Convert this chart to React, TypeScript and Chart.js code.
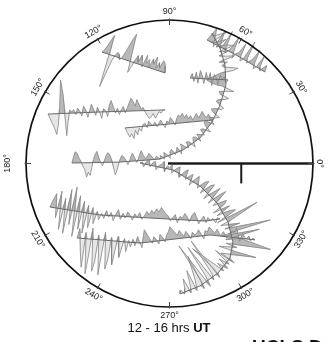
import React, { useEffect, useRef } from "react";
import { Chart, registerables } from "chart.js";

Chart.register(...registerables);

type P = [number, number];

// chart units: colatitude degrees from the pole (circle edge = 90)
const RADIUS_MAX = 90;
const ANGLE_TICKS = [0, 30, 60, 90, 120, 150, 180, 210, 240, 270, 300, 330];
const ANGLE_LABELS = ANGLE_TICKS.map((a) => `${a}°`);
const SCALE_BAR_END = 90;
const SCALE_BAR_TICK_AT = 45;
const SCALE_BAR_TICK_LEN = 12.5;
const TITLE_TEXT = "12 - 16 hrs ";
const TITLE_BOLD = "UT";
const FOOTER_TEXT = "UCLS D";

// ---- track baselines (x, y) and perturbations along each track ----
const TRACK_A_BASE: P[] = [[-42.3, 69.9], [-2.8, 56.8]];
const TRACK_A_DEV = [0, 2, 5, 9, 12.5, -21, -12, -3, 1, 3, 2, -1, 0, 4, 9, 14, 17.5, 5, -7, -3, 2, 5, 1, 6, 3, -1, 7, 2, 5, 0, 6, 3, 8, 1, 5, 2, 7, 6, 4, 0];

const TRACK_B_BASE: P[] = [[-76.2, 31.0], [-43.6, 32.3], [-2.8, 33.6]];
const TRACK_B_DEV = [0, -3, -6, -9, -13, -7, 4, 21, 12, -14, -5, 2, 1, 2, -1, 3, 1, -2, 4, 2, -3, 1, 5, 2, -2, 3, 0, -4, 2, 1, -3, 4, 7, 3, -1, 2, -2, 1, 3, -1, 2, 5, 8, 6, 3, 7, 4, 1, 2, -1, -3, -5, -4, -2, -5, -3, -1, -2, 0, 0];

const TRACK_C_BASE: P[] = [[-27.9, 22.3], [0.3, 24.8], [27.3, 27.3]];
const TRACK_C_DEV = [0, -3, -6, -4, -7, -2, -5, -1, -3, 1, 2, -1, 3, 1, 0, 2, -1, 1, 3, 0, -2, 2, 1, 4, 2, -1, 3, 5, 4, 6, 3, 5, 2, 4, 1, 3, 5, 2, 4, 6, 3, 2, 4, 1, 0];

const TRACK_D_BASE: P[] = [[-61.2, 0.3], [-31.0, 0.9], [-6.0, 2.8]];
const TRACK_D_DEV = [0, 4, 7, 6, 3, 1, -2, -4, -9, -6, -8, -3, 2, 5, 7, 3, 0, -2, 1, 4, 6, 5, 2, -3, -8, -5, -1, 2, 4, 3, 1, -2, 0, 3, 5, 2, -1, 1, 4, 6, 3, 1, 2, 4, 3, 1, 0, 2, 1, 0];

const TRACK_U_BASE: P[] = [[-6.0, 2.8], [8.5, 8.5], [19.1, 16.0], [26.7, 26.0], [31.7, 36.7], [35.4, 49.2], [34.8, 61.8], [31.7, 72.4], [26.7, 81.8]];
const TRACK_U_DEV = [0, 2, -1, 3, 1, -2, 2, 3, -1, 1, 3, -2, 2, 4, 1, -1, 3, 2, -3, 1, 3, 2, -2, 3, 1, -1, 3, 2, -3, 2, 4, 3, -2, 1, 3, -1, -3, 2, 4, 2, -2, -3, 1, 3, 2, -2, -4, 2, 3, -1, -6, 2, 5, 8, 10, 12, 9, 6, 3, -5, -8, 1, 2, -2, 3, -7, -2, 2, -4, 1, -9, -3, 2, -6, 1, 3, -8, -2, 1, 0];

const TRACK_T_BASE: P[] = [[23.5, 77.5], [41.7, 68.1], [59.9, 57.4]];
const TRACK_T_DEV = [0, 4, 9, 6, 2, -2, 1, 10, 3, -1, 2, 12, 1, -2, 0, 3, 11, 2, -3, 1, 2, 9, 1, -2, 0, 13, 2, -1, 1, 3, 10, 2, -2, 0, 8, 1, -1, 2, 4, 0];

const TRACK_T2_BASE: P[] = [[12.9, 53.6], [36.7, 52.4]];
const TRACK_T2_DEV = [0, 3, -2, 4, -3, 5, 2, -3, 4, -1, 4, -4, 3, 1, -3, 3, 0, 2, -2, 0];

const TRACK_L_BASE: P[] = [[-18.5, 0.3], [2.2, -4.1], [19.1, -14.1], [29.8, -24.8], [36.7, -36.7], [39.8, -49.2], [37.9, -59.3], [30.4, -68.7], [19.1, -76.8], [6.6, -81.8]];
const TRACK_L_DEV = [
  0, 1, -2, 2, 3, -1, 2, 3, -2, 1, 2, 4, -2, 2, 1, 3,
  -2, 2, 4, 1, -2, 3, 5, -1, 2, 4, -3, 2, 5, 2, -2,
  4, 6, -3, 5, 7, -4, 3, 8, -4, 5, 9, -3, 6, 4, -5,
  6, -4, 5, 8, -6, 22, 3, -5, 7, -3, 26, 4, -6, 18, -4,
  5, 24, -4, 3, -8, 2, 16, -6, -3, 4, -10, 2, -5, 3, -4,
  2, -22, -4, 3, -26, -2, 2, -24, -3, 4, -28, -2, 3, -20, -4, 2, -12, -3, 2, -8, -2, 1, -2, 0,
];

const TRACK_E_BASE: P[] = [[-75.0, -27.3], [-43.6, -32.3], [-12.2, -34.2], [22.3, -36.1], [31.7, -34.8]];
const TRACK_E_DEV = [0, 5, 9, -6, 11, -13, 7, -15, 13, -9, 15, -16, 10, -11, 7, -13, 5, -9, 4, -6, 2, -3, 1, -2, 3, -1, 2, -3, 1, 4, -2, 2, -1, 3, 1, -2, 2, 0, 3, -1, 1, 4, 2, 5, 3, 6, 4, 7, 5, 3, 2, -1, 1, 3, -2, 2, 1, 4, 2, -1, 3, 5, 2, -2, 1, 3, -1, 2, 0, 1, -2, 1, 0];

const TRACK_F_BASE: P[] = [[-58.0, -46.7], [-18.5, -49.9], [25.4, -44.8], [53.6, -47.9]];
const TRACK_F_DEV = [0, 6, -8, -18, 4, -22, -10, 7, -20, -14, 3, -22, -8, 5, -18, -12, 2, -15, -6, 3, -10, -4, 2, -6, 1, -3, 2, -2, 4, 1, -3, 3, 8, 5, 2, -1, 3, 1, -2, 4, 2, -1, 3, 5, 8, 6, 4, 2, 5, 3, 1, 4, 2, -1, 3, 1, 2, 4, 1, -2, 3, 2, 5, 3, 1, 4, 2, 0, 3, 1, -1, 2, 4, 3, 6, 2, -2, 3, 1, 0, 2, -1, 1, 0];

const TRACKS: { base: P[]; dev: number[] }[] = [
  { base: TRACK_A_BASE, dev: TRACK_A_DEV },
  { base: TRACK_B_BASE, dev: TRACK_B_DEV },
  { base: TRACK_C_BASE, dev: TRACK_C_DEV },
  { base: TRACK_D_BASE, dev: TRACK_D_DEV },
  { base: TRACK_U_BASE, dev: TRACK_U_DEV },
  { base: TRACK_T_BASE, dev: TRACK_T_DEV },
  { base: TRACK_T2_BASE, dev: TRACK_T2_DEV },
  { base: TRACK_L_BASE, dev: TRACK_L_DEV },
  { base: TRACK_E_BASE, dev: TRACK_E_DEV },
  { base: TRACK_F_BASE, dev: TRACK_F_DEV },
];

// positions of the samples along a baseline polyline, with unit normals
function alongTrack(base: P[], n: number) {
  const seg: number[] = [];
  let total = 0;
  for (let i = 0; i < base.length - 1; i++) {
    const l = Math.hypot(base[i + 1][0] - base[i][0], base[i + 1][1] - base[i][1]);
    seg.push(l);
    total += l;
  }
  const out: { x: number; y: number; nx: number; ny: number }[] = [];
  for (let k = 0; k < n; k++) {
    const s = n === 1 ? 0 : (total * k) / (n - 1);
    let acc = 0;
    let j = 0;
    while (j < seg.length - 1 && acc + seg[j] < s) {
      acc += seg[j];
      j++;
    }
    const t = seg[j] ? Math.min(1, (s - acc) / seg[j]) : 0;
    const [x0, y0] = base[j];
    const [x1, y1] = base[j + 1];
    const dx = (x1 - x0) / seg[j];
    const dy = (y1 - y0) / seg[j];
    out.push({ x: x0 + (x1 - x0) * t, y: y0 + (y1 - y0) * t, nx: -dy, ny: dx });
  }
  return out;
}

function buildDatasets() {
  const ds: any[] = [];
  const common = { pointRadius: 0, pointHoverRadius: 0, tension: 0, clip: false as any };
  TRACKS.forEach(({ base, dev }) => {
    const pts = alongTrack(base, dev.length);
    const rev = pts.slice().reverse().map((p) => ({ x: p.x, y: p.y }));
    const off = (f: (v: number) => number) =>
      pts.map((p, i) => ({ x: p.x + f(dev[i]) * p.nx, y: p.y + f(dev[i]) * p.ny }));
    ds.push({
      ...common,
      data: off((v) => Math.min(0, v)).concat(rev),
      fill: "shape",
      backgroundColor: "#e6e6e6",
      borderColor: "rgba(0,0,0,0)",
      borderWidth: 0,
      order: 4,
    });
    ds.push({
      ...common,
      data: off((v) => Math.max(0, v)).concat(rev),
      fill: "shape",
      backgroundColor: "#b8b8b8",
      borderColor: "rgba(0,0,0,0)",
      borderWidth: 0,
      order: 3,
    });
    ds.push({
      ...common,
      data: off((v) => v),
      fill: false,
      borderColor: "#858585",
      borderWidth: 0.8,
      order: 2,
    });
    ds.push({
      ...common,
      data: base.map(([x, y]) => ({ x, y })),
      fill: false,
      borderColor: "#6a6a6a",
      borderWidth: 1,
      order: 1,
    });
  });
  return ds;
}

const framePlugin = {
  id: "polarFrame",
  afterDatasetsDraw(chart: any) {
    const { ctx, scales } = chart;
    const xs = scales.x;
    const ys = scales.y;
    const cx = xs.getPixelForValue(0);
    const cy = ys.getPixelForValue(0);
    const r = xs.getPixelForValue(RADIUS_MAX) - cx;
    ctx.save();
    // scale bar
    ctx.strokeStyle = "#1c1c1c";
    ctx.lineWidth = 2.4;
    ctx.beginPath();
    ctx.moveTo(cx - 1.5, cy);
    ctx.lineTo(xs.getPixelForValue(SCALE_BAR_END), cy);
    ctx.stroke();
    ctx.lineWidth = 2;
    ctx.beginPath();
    const tx = xs.getPixelForValue(SCALE_BAR_TICK_AT);
    ctx.moveTo(tx, cy);
    ctx.lineTo(tx, ys.getPixelForValue(-SCALE_BAR_TICK_LEN));
    ctx.stroke();
    // circle
    ctx.strokeStyle = "#111";
    ctx.lineWidth = 1.7;
    ctx.beginPath();
    ctx.arc(cx, cy, r, 0, Math.PI * 2);
    ctx.stroke();
    // ticks and labels
    ctx.lineWidth = 1;
    ctx.strokeStyle = "#444";
    ctx.fillStyle = "#222";
    ctx.font = '9px "Liberation Sans", Arial, sans-serif';
    ctx.textAlign = "center";
    ctx.textBaseline = "middle";
    ANGLE_TICKS.forEach((a, i) => {
      const th = (a * Math.PI) / 180;
      const c = Math.cos(th);
      const s = Math.sin(th);
      ctx.beginPath();
      ctx.moveTo(cx + (r - 5) * c, cy - (r - 5) * s);
      ctx.lineTo(cx + (r + 1.5) * c, cy - (r + 1.5) * s);
      ctx.stroke();
      const offset = a === 0 ? 6 : a === 180 ? 18 : 8.5;
      const lx = cx + (r + offset) * c;
      const ly = cy - (r + offset) * s;
      const rot = a <= 180 ? 90 - a : 270 - a;
      ctx.save();
      ctx.translate(lx, ly);
      ctx.rotate((rot * Math.PI) / 180);
      ctx.fillText(ANGLE_LABELS[i], 0, 0);
      ctx.restore();
    });
    ctx.restore();
  },
};

export default function App() {
  const ref = useRef<HTMLCanvasElement>(null);
  useEffect(() => {
    const chart = new Chart(ref.current as HTMLCanvasElement, {
      type: "line",
      data: { datasets: buildDatasets() },
      options: {
        animation: false,
        responsive: false,
        events: [],
        layout: { padding: { left: 26, right: 17, top: 20, bottom: 35 } },
        scales: {
          x: { type: "linear", min: -RADIUS_MAX, max: RADIUS_MAX, display: false },
          y: { type: "linear", min: -RADIUS_MAX, max: RADIUS_MAX, display: false },
        },
        plugins: { legend: { display: false }, tooltip: { enabled: false }, title: { display: false } },
      },
      plugins: [framePlugin],
    } as any);
    return () => chart.destroy();
  }, []);
  return (
    <div style={{ position: "fixed", left: 0, top: 0, width: 330, height: 342, overflow: "hidden", background: "#fff" }}>
      <canvas ref={ref} width={330} height={342} style={{ display: "block", width: 330, height: 342 }} />
      <div
        style={{
          position: "absolute",
          left: 0,
          top: 321,
          width: 338,
          textAlign: "center",
          font: '13px "Liberation Sans", Arial, sans-serif',
          lineHeight: "13px",
          color: "#111",
          whiteSpace: "nowrap",
        }}
      >
        {TITLE_TEXT}
        <b>{TITLE_BOLD}</b>
      </div>
      <div
        style={{
          position: "absolute",
          left: 252,
          top: 336.5,
          font: 'bold 19px "Liberation Sans", Arial, sans-serif',
          lineHeight: "19px",
          color: "#111",
          whiteSpace: "nowrap",
        }}
      >
        {FOOTER_TEXT}
      </div>
    </div>
  );
}
